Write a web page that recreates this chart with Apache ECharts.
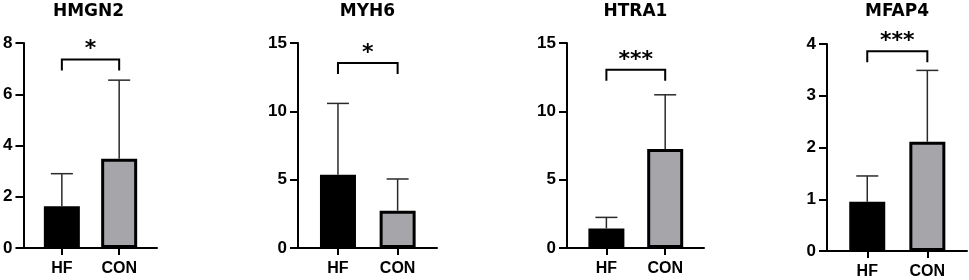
<!DOCTYPE html>
<html>
<head>
<meta charset="utf-8">
<script src="https://cdn.jsdelivr.net/npm/echarts@6/dist/echarts.min.js"></script>
<style>
  html, body { margin: 0; padding: 0; background: #fff; }
  #chart { width: 969px; height: 280px; }
</style>
</head>
<body>
<div id="chart"></div>
<script>
// values
const genes = ['HMGN2', 'MYH6', 'HTRA1', 'MFAP4']
const groups = ['HF', 'CON']
const meanHF = [1.63, 5.36, 1.43, 0.95]
const meanCON = [3.48, 2.73, 7.24, 2.11]
const sdHF = [1.27, 5.22, 0.81, 0.50]
const sdCON = [3.07, 2.32, 3.97, 1.38]
const yMax = [8, 15, 15, 4]
const yStep = [2, 5, 5, 1]
const sigText = ['*', '*', '***', '***']
const sigLevel = [7.36, 13.53, 13.04, 3.86]

// panel layout (px)
const grids = [
  { left: 20, top: 43, width: 137, height: 205 },
  { left: 298, top: 43, width: 139, height: 205 },
  { left: 567, top: 43, width: 137, height: 205 },
  { left: 827, top: 44, width: 140, height: 208 },
]

const labelFont = 'Liberation Sans'
const tickColor = '#000'

const option = {
  animation: false,
  backgroundColor: '#fff',
  title: [],
  grid: [],
  xAxis: [],
  yAxis: [],
  series: [],
}

genes.forEach(function (g, i) {
  const gr = grids[i]
  option.title.push({
    text: g,
    left: gr.left + gr.width / 2,
    top: 3,
    padding: 0,
    textAlign: 'center',
    textStyle: { fontFamily: 'DejaVu Sans', fontWeight: 'bold', fontSize: 17, color: '#000' },
  })
  option.grid.push({ left: gr.left, top: gr.top, width: gr.width, height: gr.height })
  option.xAxis.push({
    type: 'value',
    gridIndex: i,
    min: 0.33,
    max: 2.66,
    splitLine: { show: false },
    axisLine: { show: true, onZero: false, lineStyle: { color: '#000', width: 2 } },
    axisTick: { show: true, length: 7, lineStyle: { color: tickColor, width: 2 }, customValues: [1, 2] },
    axisLabel: {
      customValues: [1, 2],
      margin: 13,
      formatter: function (v) { return groups[Math.round(v) - 1] || '' },
      fontFamily: labelFont,
      fontWeight: 'bold',
      fontSize: 16,
      color: '#000',
    },
  })
  option.yAxis.push({
    type: 'value',
    gridIndex: i,
    min: 0,
    max: yMax[i],
    interval: yStep[i],
    splitLine: { show: false },
    axisLine: { show: true, onZero: false, lineStyle: { color: '#000', width: 2 } },
    axisTick: { show: true, length: 8, lineStyle: { color: tickColor, width: 2 } },
    axisLabel: {
      margin: 11,
      fontFamily: labelFont,
      fontWeight: 'bold',
      fontSize: 17,
      color: '#000',
    },
  })

  // bars
  option.series.push({
    type: 'bar',
    xAxisIndex: i,
    yAxisIndex: i,
    barWidth: 36,
    z: 2,
    data: [
      { value: [1, meanHF[i]], itemStyle: { color: '#000' } },
      { value: [2, meanCON[i]], itemStyle: { color: '#a6a5aa' } },
    ],
    itemStyle: { borderColor: '#000', borderWidth: 3 },
  })

  // upper error bars
  option.series.push({
    type: 'custom',
    xAxisIndex: i,
    yAxisIndex: i,
    z: 3,
    data: [
      [1, meanHF[i], sdHF[i]],
      [2, meanCON[i], sdCON[i]],
    ],
    encode: { x: 0, y: 1 },
    renderItem: function (params, api) {
      const x = api.value(0)
      const m = api.value(1)
      const s = api.value(2)
      const base = api.coord([x, m])
      const top = api.coord([x, m + s])
      const cap = 11
      const st = { stroke: '#2a2a2a', lineWidth: 1.5 }
      return {
        type: 'group',
        children: [
          { type: 'line', shape: { x1: base[0], y1: base[1], x2: top[0], y2: top[1] }, style: st },
          { type: 'line', shape: { x1: top[0] - cap, y1: top[1], x2: top[0] + cap, y2: top[1] }, style: st },
        ],
      }
    },
  })

  // significance bracket
  option.series.push({
    type: 'custom',
    xAxisIndex: i,
    yAxisIndex: i,
    z: 4,
    data: [[1, 2, sigLevel[i]]],
    encode: { x: [0, 1], y: 2 },
    renderItem: function (params, api) {
      const a = api.coord([api.value(0), api.value(2)])
      const b = api.coord([api.value(1), api.value(2)])
      const drop = 11
      return {
        type: 'group',
        children: [
          {
            type: 'polyline',
            shape: { points: [[a[0], a[1] + drop], [a[0], a[1]], [b[0], b[1]], [b[0], b[1] + drop]] },
            style: { stroke: '#000', lineWidth: 2, fill: null },
          },
          {
            type: 'text',
            style: {
              text: sigText[i],
              x: (a[0] + b[0]) / 2,
              y: a[1] + 1,
              align: 'center',
              verticalAlign: 'bottom',
              fontFamily: 'DejaVu Sans',
              fontWeight: 'bold',
              fontSize: 22,
              fill: '#000',
            },
          },
        ],
      }
    },
  })
})

const myChart = echarts.init(document.getElementById('chart'))
myChart.setOption(option, true)
</script>
</body>
</html>
